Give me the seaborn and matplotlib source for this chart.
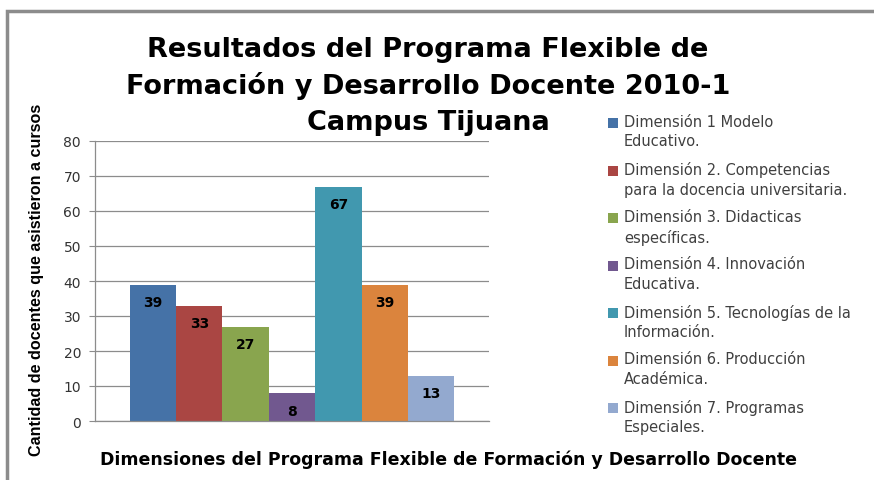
import matplotlib
matplotlib.use('Agg')
import matplotlib.pyplot as plt
import seaborn as sns
import pandas as pd
from matplotlib.patches import Rectangle

# Data
dimensiones = [
    'Dimensión 1 Modelo\nEducativo.',
    'Dimensión 2. Competencias\npara la docencia universitaria.',
    'Dimensión 3. Didacticas\nespecíficas.',
    'Dimensión 4. Innovación\nEducativa.',
    'Dimensión 5. Tecnologías de la\nInformación.',
    'Dimensión 6. Producción\nAcadémica.',
    'Dimensión 7. Programas\nEspeciales.',
]
docentes = [39, 33, 27, 8, 67, 39, 13]
colores = ['#4572A7', '#AA4643', '#89A54E', '#71588F', '#4198AF', '#DB843D', '#93A9CF']
titulo = ['Resultados del Programa Flexible de',
          'Formación y Desarrollo Docente 2010-1',
          'Campus Tijuana']

df = pd.DataFrame({'dimension': dimensiones, 'docentes': docentes})

sns.set_style('white')
plt.rcParams['font.family'] = ['DejaVu Sans']

fig = plt.figure(figsize=(8.74, 4.81), dpi=100)
W, H = 874, 481
ax = fig.add_axes([95 / W, 1 - 422 / H, (489 - 95) / W, (422 - 142) / H])

sns.barplot(data=df, x='dimension', y='docentes', hue='dimension', palette=colores,
            width=1.0, legend=False, ax=ax, saturation=1, edgecolor='none', linewidth=0)

ax.set_xlim(-1.25, 7.25)
ax.set_ylim(0, 80)
ax.set_yticks(range(0, 81, 10))
ax.set_xticks([])
ax.set_xlabel('')
ax.set_ylabel('')
ax.yaxis.grid(True, color='#8c8c8c', linewidth=0.9)
ax.set_axisbelow(True)
for s in ['top', 'right']:
    ax.spines[s].set_visible(False)
for s in ['left', 'bottom']:
    ax.spines[s].set_color('#8c8c8c')
    ax.spines[s].set_linewidth(0.9)
ax.tick_params(axis='y', left=True, length=4, color='#8c8c8c', labelsize=10, labelcolor='#333333', pad=6)

# data labels
for i, v in enumerate(docentes):
    ax.text(i, v - 5, str(v), ha='center', va='center', fontsize=10, fontweight='bold', color='black')

# title, one line at a time
for j, linea in enumerate(titulo):
    fig.text(428 / W, 1 - (50 + 36.5 * j) / H, linea, ha='center', va='center',
             fontsize=19.5, fontweight='bold', color='black')

# axis titles
fig.text(37 / W, 1 - 280 / H, 'Cantidad de docentes que asistieron a cursos', rotation=90,
         ha='center', va='center', fontsize=11.6, fontweight='bold', color='black',
         family='Liberation Sans')
fig.text(448 / W, 1 - 460 / H, 'Dimensiones del Programa Flexible de Formación y Desarrollo Docente',
         ha='center', va='center', fontsize=12.5, fontweight='bold', color='black')

# legend
for k, (lab, c) in enumerate(zip(dimensiones, colores)):
    y = 124 + k * 47.5
    fig.patches.append(Rectangle((608 / W, 1 - (y + 5) / H), 10 / W, 10 / H, transform=fig.transFigure,
                                 facecolor=c, edgecolor='none'))
    fig.text(624 / W, 1 - (y - 9) / H, lab, ha='left', va='top', fontsize=10.5, color='#404040',
             linespacing=1.35)

# chart frame
fig.patches.append(Rectangle((7 / W, -0.05), 1.2, 1 - 12 / H + 0.05, transform=fig.transFigure,
                             facecolor='none', edgecolor='#8c8c8c', linewidth=2.5))

fig.savefig('out.png', dpi=100)
